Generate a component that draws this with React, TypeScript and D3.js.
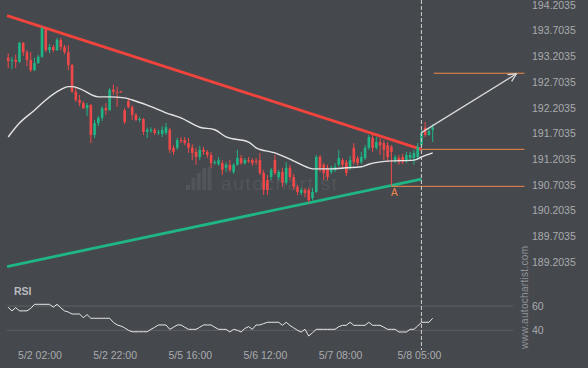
import * as d3 from 'd3';

// hourly candles, 5/1 17:00 .. 5/8 08:00
const opens = [
  193.17, 193.11, 193.13, 193.09, 193.46, 193.28, 193.13, 192.93, 193.07, 193.19,
  193.75, 193.32, 193.38, 193.32, 193.52, 193.38, 193.28, 193.03, 192.51, 192.35,
  192.29, 192.19, 192.25, 191.67, 191.90, 192.00, 192.19, 192.15, 192.55, 192.51,
  192.52, 192.15, 192.33, 192.21, 192.06, 191.96, 191.98, 191.73, 191.75, 191.77,
  191.71, 191.69, 191.71, 191.77, 191.42, 191.42, 191.57, 191.57, 191.51, 191.42,
  191.34, 191.24, 191.38, 191.34, 191.28, 191.12, 191.10, 191.12, 191.03, 191.09,
  190.95, 191.09, 191.22, 191.12, 191.18, 191.18, 191.16, 191.18, 190.93, 190.79,
  190.85, 191.18, 190.85, 190.95, 190.74, 191.03, 190.85, 190.66, 190.54, 190.60,
  190.60, 190.44, 190.56, 191.24, 191.09, 191.03, 190.95, 190.99, 191.09, 191.18,
  191.14, 191.05, 191.42, 191.22, 191.14, 191.22, 191.42, 191.61, 191.42, 191.53,
  191.51, 191.47, 191.44, 191.18, 191.22, 191.24, 191.18, 191.22, 191.22, 191.24,
  191.47, 191.81, 191.67, 191.77,
];
const closes = [
  193.11, 193.13, 193.09, 193.46, 193.28, 193.13, 192.93, 193.07, 193.19, 193.75,
  193.32, 193.38, 193.32, 193.52, 193.38, 193.28, 193.03, 192.51, 192.35, 192.29,
  192.19, 192.25, 191.67, 191.90, 192.00, 192.19, 192.15, 192.55, 192.51, 192.49,
  192.50, 191.92, 192.21, 192.06, 191.96, 191.98, 191.73, 191.77, 191.77, 191.71,
  191.73, 191.77, 191.82, 191.38, 191.34, 191.57, 191.55, 191.51, 191.42, 191.32,
  191.24, 191.38, 191.34, 191.28, 191.12, 191.14, 191.18, 190.99, 191.09, 190.99,
  191.09, 191.22, 191.12, 191.18, 191.16, 191.12, 191.14, 190.93, 190.60, 190.60,
  190.99, 190.93, 190.95, 190.74, 191.03, 190.85, 190.66, 190.56, 190.60, 190.54,
  190.40, 190.56, 191.24, 191.03, 190.93, 190.85, 191.03, 191.05, 191.22, 191.09,
  190.93, 191.18, 191.14, 191.12, 191.24, 191.42, 191.63, 191.42, 191.53, 191.47,
  191.38, 191.24, 191.34, 191.24, 191.14, 191.14, 191.28, 191.28, 191.32, 191.44,
  191.71, 191.67, 191.75, 191.82,
];
const highs = [
  193.26, 193.19, 193.23, 193.48, 193.48, 193.32, 193.28, 193.17, 193.23, 193.77,
  193.77, 193.44, 193.42, 193.56, 193.56, 193.42, 193.42, 193.05, 192.58, 192.45,
  192.33, 192.29, 192.27, 191.96, 192.04, 192.23, 192.29, 192.58, 192.65, 192.61,
  192.53, 192.19, 192.39, 192.25, 192.10, 192.02, 192.00, 191.81, 191.82, 191.81,
  191.77, 191.84, 191.90, 191.81, 191.47, 191.61, 191.63, 191.63, 191.61, 191.49,
  191.42, 191.46, 191.44, 191.38, 191.34, 191.18, 191.24, 191.18, 191.14, 191.18,
  191.12, 191.38, 191.28, 191.22, 191.24, 191.22, 191.22, 191.32, 190.99, 190.89,
  191.03, 191.28, 190.99, 191.03, 191.14, 191.09, 190.91, 190.70, 190.64, 190.64,
  190.64, 190.64, 191.28, 191.28, 191.12, 191.09, 191.07, 191.12, 191.38, 191.22,
  191.18, 191.26, 191.51, 191.26, 191.34, 191.47, 191.67, 191.67, 191.63, 191.61,
  191.57, 191.53, 191.47, 191.28, 191.28, 191.30, 191.34, 191.34, 191.38, 191.51,
  191.77, 191.92, 191.81, 191.88,
];
const lows = [
  192.97, 192.95, 192.97, 193.07, 193.21, 193.01, 192.89, 192.91, 193.05, 193.17,
  193.28, 193.26, 193.28, 193.30, 193.32, 193.24, 192.93, 192.49, 192.31, 192.23,
  192.17, 192.04, 191.51, 191.61, 191.84, 191.94, 192.06, 192.14, 192.45, 192.21,
  192.49, 191.88, 192.19, 191.96, 191.94, 191.92, 191.67, 191.61, 191.71, 191.67,
  191.67, 191.63, 191.67, 191.32, 191.28, 191.38, 191.51, 191.47, 191.32, 191.18,
  191.09, 191.18, 191.28, 191.22, 191.03, 191.09, 191.07, 190.89, 190.95, 190.95,
  190.91, 191.07, 191.09, 191.09, 191.12, 191.07, 191.09, 190.89, 190.50, 190.50,
  190.79, 190.89, 190.79, 190.66, 190.70, 190.79, 190.60, 190.50, 190.50, 190.46,
  190.35, 190.40, 190.54, 190.95, 190.79, 190.79, 190.91, 190.95, 191.05, 191.03,
  190.87, 190.99, 191.09, 191.07, 191.10, 191.18, 191.38, 191.34, 191.38, 191.28,
  191.18, 191.14, 190.68, 191.12, 191.09, 191.10, 191.12, 191.18, 191.09, 191.18,
  191.44, 191.63, 191.65, 191.53,
];

// moving average, read at a few candles
const maIdx = [0, 3, 7, 10, 14, 16, 17, 19, 24, 27, 31, 33, 37, 42, 46, 51, 55, 58, 64, 66, 71, 75, 80, 81, 86, 90, 94, 96, 101, 108, 110, 113];
const maVal = [191.63, 191.90, 192.15, 192.35, 192.55, 192.61, 192.61, 192.57, 192.41, 192.41, 192.39, 192.35, 192.25, 192.10, 192.00, 191.82, 191.77, 191.63, 191.53, 191.42, 191.32, 191.20, 191.03, 191.01, 191.01, 191.03, 191.05, 191.10, 191.16, 191.18, 191.24, 191.32];

const rsi = [
  59, 56, 58.6, 56, 56, 56, 58, 61.4, 61.4, 61.4,
  61.4, 61.4, 59, 61.4, 58.5, 56, 55, 53.4, 53.4, 53.4,
  50.4, 52.9, 49.9, 49.9, 49.9, 49.9, 49.9, 49.9, 46.5, 44.4,
  43.5, 42, 40, 38.8, 38.8, 38.8, 38.8, 38.8, 40.8, 42.5,
  44.4, 44.4, 44.4, 40.8, 42.5, 44.4, 44.4, 42.5, 40.8, 40.8,
  40.8, 42.5, 44.4, 44.4, 44.4, 42.5, 40.8, 40.8, 40.8, 38.6,
  40.8, 40, 38.6, 41.5, 43, 40.8, 44.4, 44.4, 45.5, 46.6,
  46.6, 46.6, 46.6, 44.1, 46.6, 44, 42, 40, 38.6, 40.8,
  35.3, 38, 40.8, 40.8, 40.8, 40.8, 40.8, 40.8, 43, 44.1,
  44.1, 46.6, 44.1, 44.1, 44.1, 44.1, 46.6, 44.1, 44.1, 44.1,
  42.5, 40.8, 40.8, 40.8, 38.6, 38.6, 38.6, 40.8, 40.8, 43.5,
  46.6, 46.6, 46.6, 49.9,
];

const priceTicks = [189.2035, 189.7035, 190.2035, 190.7035, 191.2035, 191.7035, 192.2035, 192.7035, 193.2035, 193.7035, 194.2035];
const rsiTicks = [40, 60];
const timeIdx = [9, 29, 49, 69, 89, 110];
const timeLabels = ['5/2 02:00', '5/2 22:00', '5/5 16:00', '5/6 12:00', '5/7 08:00', '5/8 05:00'];

// pattern
const resistance = [{ i: -0.3, p: 193.99 }, { i: 110, p: 191.39 }];
const support = [{ i: -0.3, p: 189.11 }, { i: 110, p: 190.81 }];
const levels = [
  { p: 192.87, from: 113.3, to: 137.4 },
  { p: 191.39, from: 110, to: 137.4 },
  { p: 190.67, from: 102, to: 137.4 },
];
const forecast = [{ i: 110.1, p: 191.72 }, { i: 135.3, p: 192.86 }];
const pointA = { i: 102, p: 190.67 };
const nowIdx = 110;

const W = 588;
const H = 368;
const BG = '#45484d';
const UP = '#1fb585';
const DOWN = '#f04848';
const ORANGE = '#f0894a';
const FONT = '"Liberation Sans", Arial, sans-serif';

export default function App() {
  const x = d3.scaleLinear().domain([0, 113]).range([8.2, 432.7]);
  const y = d3.scaleLinear().domain([189.2035, 194.2035]).range([261.7, 4.7]);
  const yr = d3.scaleLinear().domain([40, 60]).range([330.3, 306]);

  const seg = d3.line<{ i: number; p: number }>().x(d => x(d.i)).y(d => y(d.p));
  const maLine = d3.line<number>()
    .x((_, k) => x(maIdx[k]))
    .y(d => y(d))
    .curve(d3.curveMonotoneX);
  const rsiLine = d3.line<number>().x((_, k) => x(k)).y(d => yr(d));

  const ax0 = x(forecast[0].i), ay0 = y(forecast[0].p);
  const ax1 = x(forecast[1].i), ay1 = y(forecast[1].p);
  const ang = Math.atan2(ay1 - ay0, ax1 - ax0);
  const head = [-0.45, 0.45].map(a => [ax1 - 9 * Math.cos(ang + a), ay1 - 9 * Math.sin(ang + a)]);

  const bw = 2.6;

  return (
    <div style={{ position: 'fixed', left: 0, top: 0 }}>
      <svg width={W} height={H} style={{ display: 'block', fontFamily: FONT }}>
        <rect width={W} height={H} fill={BG} />

        {/* watermark logo */}
        <g fill="#52555a">
          {[5, 12, 17, 22, 23].map((h, k) => (
            <rect key={k} x={186 + k * 5.4} y={190 - h} width={4} height={h} />
          ))}
          <text x={221} y={190} fontSize={19} letterSpacing={1.6} fill="#52555a">autochartist</text>
        </g>

        {/* rsi grid */}
        {rsiTicks.map(t => (
          <g key={t}>
            <line x1={7} x2={513} y1={yr(t)} y2={yr(t)} stroke="#5e6166" strokeWidth={1} />
            <text x={532} y={yr(t) + 4} fontSize={10.5} fill="#a9abae">{t}</text>
          </g>
        ))}
        <text x={14} y={295} fontSize={10.5} fontWeight="bold" fill="#b9bbbe">RSI</text>
        <path d={rsiLine(rsi) ?? ''} fill="none" stroke="#e8e8e8" strokeWidth={1} />

        {/* price labels */}
        {priceTicks.map(t => (
          <text key={t} x={532} y={y(t) + 4} fontSize={10.5} fill="#a9abae">{t.toFixed(4)}</text>
        ))}

        {/* trend lines */}
        <path d={seg(resistance) ?? ''} stroke="#f0443c" strokeWidth={2.8} fill="none" />
        <path d={seg(support) ?? ''} stroke="#1fb585" strokeWidth={2.8} fill="none" />

        {/* levels */}
        {levels.map((l, k) => (
          <line key={k} x1={x(l.from)} x2={x(l.to)} y1={y(l.p)} y2={y(l.p)} stroke={ORANGE} strokeWidth={1} />
        ))}

        {/* candles */}
        {closes.map((c, i) => {
          const o = opens[i];
          const col = c >= o ? UP : DOWN;
          const top = y(Math.max(o, c));
          const bot = y(Math.min(o, c));
          return (
            <g key={i}>
              <line x1={x(i)} x2={x(i)} y1={y(highs[i])} y2={y(lows[i])} stroke={col} strokeWidth={1} />
              <rect x={x(i) - bw / 2} y={top} width={bw} height={Math.max(1, bot - top)} fill={col} />
            </g>
          );
        })}

        {/* moving average */}
        <path d={maLine(maVal) ?? ''} fill="none" stroke="#e4e4e4" strokeWidth={1.4} />

        {/* forecast arrow */}
        <line x1={ax0} y1={ay0} x2={ax1} y2={ay1} stroke="#d8d8d8" strokeWidth={1.3} />
        {head.map((h, k) => (
          <line key={k} x1={ax1} y1={ay1} x2={h[0]} y2={h[1]} stroke="#d8d8d8" strokeWidth={1.3} />
        ))}

        <text x={x(pointA.i) + 3} y={y(pointA.p) + 10} fontSize={10} fill={ORANGE} textAnchor="middle">A</text>

        {/* now line */}
        <line x1={x(nowIdx)} x2={x(nowIdx)} y1={0} y2={350} stroke="#cfcfcf" strokeWidth={1} strokeDasharray="4,2" />

        {/* time labels */}
        {timeIdx.map((t, k) => (
          <text key={t} x={x(t) - 2} y={359} fontSize={10.5} fill="#a9abae" textAnchor="middle">{timeLabels[k]}</text>
        ))}

        <text transform="translate(528,349) rotate(-90)" fontSize={10} fill="#909396" letterSpacing={0.3}>www.autochartist.com</text>
      </svg>
    </div>
  );
}
